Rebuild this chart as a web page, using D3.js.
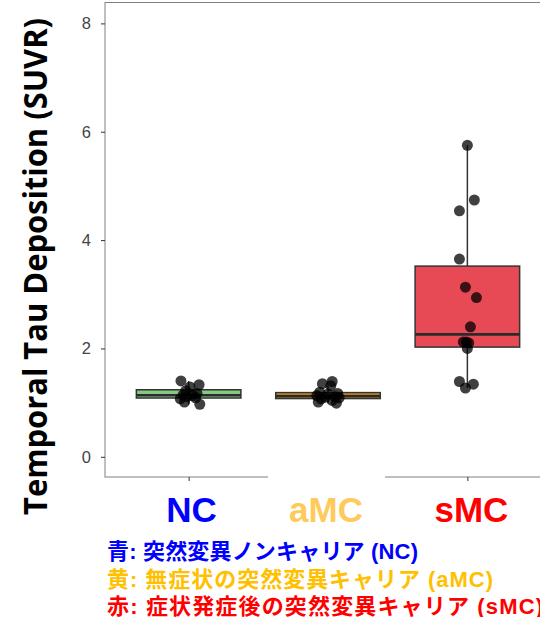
<!DOCTYPE html>
<html>
<head>
<meta charset="utf-8">
<script src="https://cdn.jsdelivr.net/npm/d3@7"></script>
<style>body{margin:0;background:#fff;}</style>
</head>
<body>
<script>
// groups and values
const groups = ["NC", "aMC", "sMC"];
const ncValues  = [1.40, 1.33, 1.29, 1.22, 1.17, 1.14, 1.13, 1.11, 1.09, 1.07, 1.01, 0.97];
const ncJitter  = [-0.055, 0.075, 0.01, -0.02, 0.06, -0.04, 0.03, -0.01, 0.05, -0.06, -0.03, 0.08];
const amcValues = [1.39, 1.35, 1.31, 1.19, 1.17, 1.16, 1.13, 1.11, 1.10, 1.09, 1.07, 1.04, 1.01, 0.99];
const amcJitter = [0.03, -0.04, 0.02, -0.06, 0.07, 0.0, -0.08, 0.05, -0.02, 0.08, -0.05, 0.03, -0.07, 0.06];
const smcValues = [5.75, 4.74, 4.54, 3.65, 3.13, 2.94, 2.40, 2.12, 2.12, 2.10, 2.00, 1.39, 1.34, 1.27];
const smcJitter = [0.0, 0.05, -0.057, -0.057, -0.014, 0.065, 0.022, -0.029, -0.007, 0.01, 0.0, -0.057, 0.043, -0.014];
const yTicks = [0, 2, 4, 6, 8];
const boxFills = ["#88c783", "#e0951f", "#e84a55"];
const labelColors = ["#0000ff", "#ffca5c", "#ff0000"];
const legendLines = [
  "青: 突然変異ノンキャリア (NC)",
  "黄: 無症状の突然変異キャリア (aMC)",
  "赤: 症状発症後の突然変異キャリア (sMC)"
];
const legendColors = ["#0000ff", "#ffc000", "#ff0000"];
const legendWidths = [311, 386, 436];

const width = 540, height = 617;
const panel = {left: 105, right: 551, top: 2.5, bottom: 477};

const svg = d3.select("body").append("svg")
  .attr("width", width)
  .attr("height", height);

const x = d3.scalePoint()
  .domain(groups)
  .range([panel.left, panel.right])
  .padding(0.6);

const y = d3.scaleLinear()
  .domain([0, 8])
  .range([456.8, 23.4]);

const boxWidth = x.step() * 0.75;

const data = [
  {g: "NC", values: ncValues, jitter: ncJitter},
  {g: "aMC", values: amcValues, jitter: amcJitter},
  {g: "sMC", values: smcValues, jitter: smcJitter}
];

function stats(vals) {
  const s = vals.slice().sort(d3.ascending);
  const q1 = d3.quantileSorted(s, 0.25),
        med = d3.quantileSorted(s, 0.5),
        q3 = d3.quantileSorted(s, 0.75),
        iqr = q3 - q1;
  const lo = d3.min(s.filter(v => v >= q1 - 1.5 * iqr)),
        hi = d3.max(s.filter(v => v <= q3 + 1.5 * iqr));
  return {q1, med, q3, lo, hi};
}

// panel frame
svg.append("rect")
  .attr("x", panel.left)
  .attr("y", panel.top)
  .attr("width", panel.right - panel.left)
  .attr("height", panel.bottom - panel.top)
  .attr("fill", "none")
  .attr("stroke", "#808080")
  .attr("stroke-width", 1);

const boxes = svg.append("g");

data.forEach((d, i) => {
  const st = stats(d.values);
  const cx = x(d.g);
  // whiskers
  boxes.append("line")
    .attr("x1", cx).attr("x2", cx)
    .attr("y1", y(st.hi)).attr("y2", y(st.q3))
    .attr("stroke", "#333").attr("stroke-width", 1.5);
  boxes.append("line")
    .attr("x1", cx).attr("x2", cx)
    .attr("y1", y(st.q1)).attr("y2", y(st.lo))
    .attr("stroke", "#333").attr("stroke-width", 1.5);
  // box
  boxes.append("rect")
    .attr("x", cx - boxWidth / 2)
    .attr("y", y(st.q3))
    .attr("width", boxWidth)
    .attr("height", y(st.q1) - y(st.q3))
    .attr("fill", boxFills[i])
    .attr("stroke", "#333")
    .attr("stroke-width", 1.5);
  // median
  boxes.append("line")
    .attr("x1", cx - boxWidth / 2).attr("x2", cx + boxWidth / 2)
    .attr("y1", y(st.med)).attr("y2", y(st.med))
    .attr("stroke", "#2b2b2b").attr("stroke-width", 2.6);
});

// jittered points
data.forEach(d => {
  svg.append("g").selectAll("circle")
    .data(d.values)
    .enter().append("circle")
      .attr("cx", (v, j) => x(d.g) + d.jitter[j] * x.step())
      .attr("cy", v => y(v))
      .attr("r", 5.5)
      .attr("fill", "#000")
      .attr("fill-opacity", 0.75);
});

// axes
const yAxis = svg.append("g")
  .attr("transform", "translate(" + panel.left + ",0)")
  .call(d3.axisLeft(y).tickValues(yTicks).tickSize(4).tickPadding(10));
yAxis.select(".domain").remove();
yAxis.selectAll(".tick line").attr("stroke", "#333");
yAxis.selectAll("text")
  .attr("fill", "#444")
  .style("font-family", "'Liberation Sans', Arial, sans-serif")
  .style("font-size", "16.5px");

const xAxis = svg.append("g")
  .attr("transform", "translate(0," + panel.bottom + ")")
  .call(d3.axisBottom(x).tickSize(4).tickFormat(""));
xAxis.select(".domain").remove();
xAxis.selectAll(".tick line").attr("stroke", "#333");

// white patch over the middle label area
svg.append("rect")
  .attr("x", 268).attr("y", 474)
  .attr("width", 117).attr("height", 56)
  .attr("fill", "#fff");

// group labels
svg.append("g").selectAll("text")
  .data(groups)
  .enter().append("text")
    .attr("x", (g, i) => x(g) + [3, -2, 4][i])
    .attr("y", 521.5)
    .attr("text-anchor", "middle")
    .attr("fill", (g, i) => labelColors[i])
    .style("font-family", "'Liberation Sans', Arial, sans-serif")
    .style("font-weight", "bold")
    .style("font-size", "35px")
    .text(g => g);

// y title
svg.append("text")
  .attr("transform", "translate(47," + 266.5 + ") rotate(-90)")
  .attr("text-anchor", "middle")
  .attr("fill", "#000")
  .attr("textLength", 497)
  .attr("lengthAdjust", "spacingAndGlyphs")
  .style("font-family", "'Open Sans', sans-serif")
  .style("font-weight", "bold")
  .style("font-size", "32px")
  .text("Temporal Tau Deposition (SUVR)");

// legend lines
svg.append("g").selectAll("text")
  .data(legendLines)
  .enter().append("text")
    .attr("x", 107)
    .attr("y", (t, i) => 559 + i * 27.5)
    .attr("fill", (t, i) => legendColors[i])
    .attr("textLength", (t, i) => legendWidths[i])
    .attr("lengthAdjust", "spacing")
    .style("font-family", "'Liberation Sans', 'Noto Sans CJK JP', sans-serif")
    .style("font-weight", "bold")
    .style("font-size", "22px")
    .text(t => t);
</script>
</body>
</html>
